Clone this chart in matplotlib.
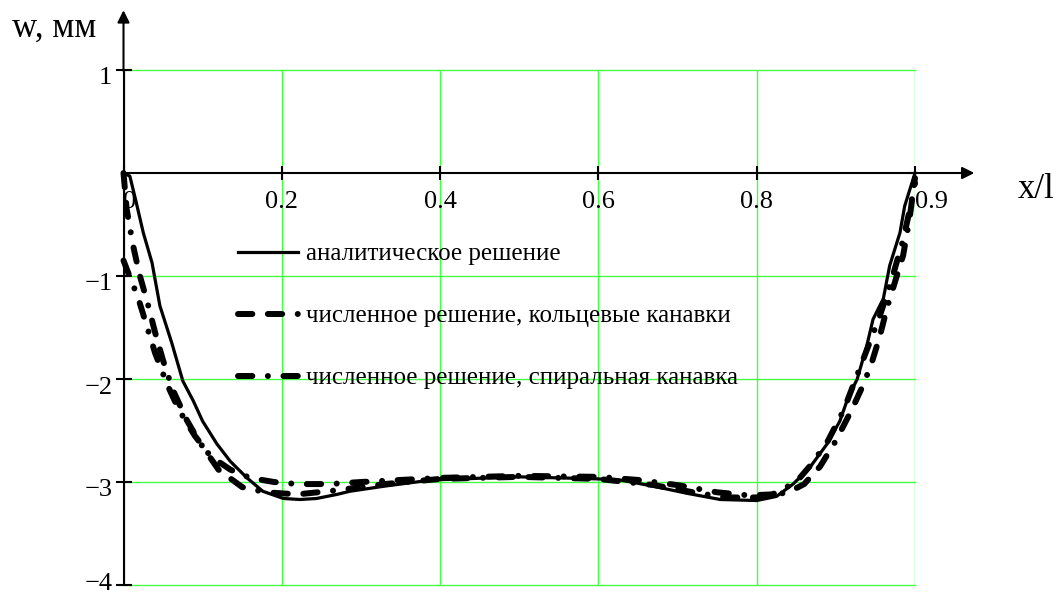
import matplotlib
matplotlib.use("Agg")
import matplotlib.pyplot as plt
import matplotlib.transforms as mtransforms

plt.rcParams['font.family'] = ['Liberation Serif', 'DejaVu Serif']

# analytic solution
x_an = [0.0, 0.008, 0.015, 0.025, 0.036, 0.046, 0.061, 0.075, 0.088, 0.100, 0.118, 0.135,
        0.156, 0.176, 0.202, 0.223, 0.244, 0.270, 0.286, 0.33, 0.39, 0.5, 0.6, 0.627,
        0.669, 0.712, 0.754, 0.800, 0.825, 0.846, 0.867, 0.889, 0.905, 0.915, 0.927,
        0.939, 0.947, 0.960, 0.968, 0.981, 0.987, 1.0]
w_an = [0.0, -0.03, -0.25, -0.58, -0.87, -1.29, -1.65, -2.02, -2.21, -2.41, -2.63, -2.80,
        -2.96, -3.09, -3.16, -3.17, -3.16, -3.12, -3.09, -3.04, -2.98, -2.95, -2.97, -2.98,
        -3.04, -3.11, -3.17, -3.18, -3.14, -3.02, -2.86, -2.63, -2.41, -2.19, -2.0,
        -1.68, -1.42, -1.22, -0.90, -0.58, -0.32, 0.0]

# numerical solution, ring grooves
x_ring = [0.0, 0.004, 0.012, 0.02, 0.03, 0.04, 0.05, 0.062, 0.08, 0.095, 0.12, 0.15, 0.18,
          0.22, 0.27, 0.33, 0.4, 0.5, 0.6, 0.67, 0.72, 0.76, 0.8, 0.84, 0.86, 0.88, 0.9,
          0.92, 0.935, 0.945, 0.955, 0.965, 0.975, 0.985, 0.993, 1.0]
w_ring = [0.0, -0.35, -0.7, -0.98, -1.25, -1.55, -1.82, -2.1, -2.4, -2.6, -2.88, -3.05, -3.1,
          -3.12, -3.08, -3.02, -2.97, -2.95, -2.97, -3.03, -3.1, -3.15, -3.15, -3.1, -3.02,
          -2.85, -2.6, -2.3, -2.05, -1.85, -1.6, -1.3, -1.05, -0.8, -0.45, -0.05]

# numerical solution, spiral groove
x_spir = [0.0, 0.01, 0.018, 0.028, 0.04, 0.055, 0.07, 0.09, 0.11, 0.135, 0.16, 0.19, 0.22,
          0.26, 0.3, 0.35, 0.4, 0.5, 0.6, 0.65, 0.7, 0.75, 0.79, 0.82, 0.85, 0.87, 0.89,
          0.91, 0.925, 0.94, 0.955, 0.97, 0.985, 0.995, 1.0]
w_spir = [-0.85, -1.05, -1.2, -1.45, -1.75, -2.05, -2.3, -2.55, -2.75, -2.88, -2.96, -3.0,
          -3.02, -3.02, -3.0, -2.98, -2.96, -2.94, -2.95, -2.98, -3.03, -3.1, -3.13, -3.12,
          -3.0, -2.82, -2.6, -2.3, -2.0, -1.7, -1.4, -1.05, -0.65, -0.3, -0.1]

labels = ['аналитическое решение',
          'численное решение, кольцевые канавки',
          'численное решение, спиральная канавка']

xticks = [0, 0.2, 0.4, 0.6, 0.8, 1.0]
xtick_labels = ['0', '0.2', '0.4', '0.6', '0.8', '0.9']
yticks = [1, -1, -2, -3, -4]

fig = plt.figure(figsize=(10.62, 5.96), dpi=100)
ax = fig.add_axes([123.5 / 1062, 11 / 596, 791.5 / 1062, 515 / 596])
ax.set_xlim(0, 1)
ax.set_ylim(-4, 1)

green = '#44ff44'
ax.grid(True, color=green, lw=1.0)
ax.set_axisbelow(True)
for gl in ax.get_xgridlines() + ax.get_ygridlines():
    gl.set_clip_on(False)

ax.spines['top'].set_visible(False)
ax.spines['right'].set_visible(False)
ax.spines['bottom'].set_position(('data', 0))
ax.spines['left'].set_linewidth(1.5)
ax.spines['bottom'].set_linewidth(1.5)

ax.set_xticks(xticks)
ax.set_xticklabels(xtick_labels)
ax.set_yticks(yticks)
ax.tick_params(axis='y', direction='inout', length=12, width=1.5, labelsize=19, pad=2)
ax.tick_params(axis='x', direction='inout', length=10, width=1.5, labelsize=19, pad=8)
xl = ax.get_xticklabels()
xl[0].set_horizontalalignment('left')
xl[-1].set_horizontalalignment('left')
# labels sit a little below their ticks, as in the original (except the last one)
for t, v in zip(ax.get_yticklabels(), yticks):
    dy = 4 if v == -4 else -6
    t.set_transform(t.get_transform() +
                    mtransforms.ScaledTranslation(0, dy / 100, fig.dpi_scale_trans))

# axis arrows
ax.annotate('', xy=(1.075, 0), xytext=(0.99, 0), annotation_clip=False,
            arrowprops=dict(arrowstyle='-|>', color='black', lw=1.5,
                            mutation_scale=18, shrinkA=0, shrinkB=0))
ax.annotate('', xy=(0, 1.58), xytext=(0, 0.99), annotation_clip=False,
            arrowprops=dict(arrowstyle='-|>', color='black', lw=1.5,
                            mutation_scale=18, shrinkA=0, shrinkB=0))

ax.plot(x_an, w_an, color='black', lw=2.3, label=labels[0], clip_on=False)
ax.plot(x_ring, w_ring, color='black', lw=4.3,
        linestyle=(0, (2.4, 2.6, 2.4, 2.6, 0.01, 2.6)),
        dash_capstyle='round', label=labels[1], clip_on=False)
ax.plot(x_spir, w_spir, color='black', lw=4.3, linestyle=(0, (2.4, 2.6, 0.01, 2.6)),
        dash_capstyle='round', label=labels[2], clip_on=False)

leg = ax.legend(loc='upper left', bbox_to_anchor=(238 / 1062, 1 - 243 / 596),
                bbox_transform=fig.transFigure, frameon=False, fontsize=18,
                handlelength=2.4, handletextpad=0.3, labelspacing=1.58,
                borderpad=0, borderaxespad=0)

fig.text(12 / 1062, 1 - 28 / 596, 'w, мм', fontsize=25, va='center', ha='left')
fig.text(1018 / 1062, 1 - 190 / 596, 'x/l', fontsize=25, va='center', ha='left')

fig.savefig('out.png', dpi=100)
